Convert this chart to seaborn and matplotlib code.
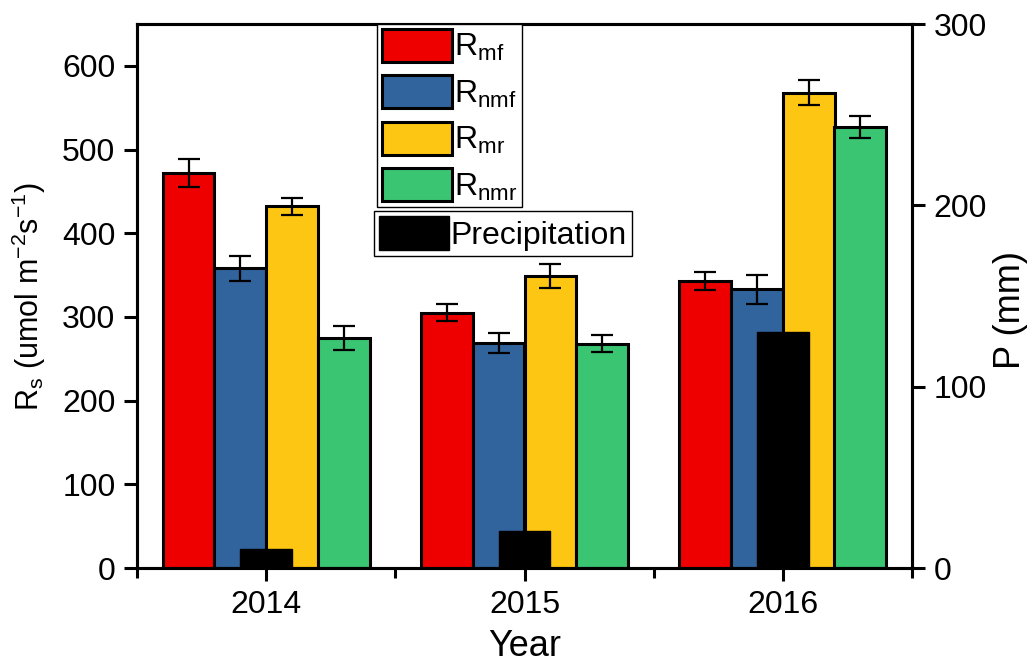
import matplotlib
matplotlib.use('Agg')
import matplotlib.pyplot as plt
import seaborn as sns
import pandas as pd
from matplotlib.patches import Patch
from matplotlib.ticker import FixedLocator, MultipleLocator

# ---------------- data ----------------
years = ['2014', '2015', '2016']
series = ['Rmf', 'Rnmf', 'Rmr', 'Rnmr']
series_labels = [r'$\mathregular{R_{mf}}$', r'$\mathregular{R_{nmf}}$',
                 r'$\mathregular{R_{mr}}$', r'$\mathregular{R_{nmr}}$']
r_mf = [472, 305, 343]
r_mf_err = [17, 10, 11]
r_nmf = [358, 269, 333]
r_nmf_err = [15, 12, 17]
r_mr = [432, 349, 568]
r_mr_err = [10, 14, 15]
r_nmr = [275, 268, 527]
r_nmr_err = [14, 10, 13]
precip = [10.5, 20.5, 130]
colors = ['#EE0000', '#31639C', '#FDC612', '#3AC572']

values = [r_mf, r_nmf, r_mr, r_nmr]
errors = [r_mf_err, r_nmf_err, r_mr_err, r_nmr_err]

df = pd.DataFrame({
    'year': [y for _ in series for y in years],
    'series': [s for s in series for _ in years],
    'value': [v for vals in values for v in vals],
})
dfp = pd.DataFrame({'year': years, 'precip': precip})

# ---------------- style ----------------
sns.set_style('ticks')
plt.rcParams['font.family'] = ['Liberation Sans', 'DejaVu Sans']
plt.rcParams['mathtext.fontset'] = 'custom'
plt.rcParams['mathtext.rm'] = 'Liberation Sans'
plt.rcParams['mathtext.it'] = 'Liberation Sans'
for k in ('text.color', 'axes.labelcolor', 'xtick.color', 'ytick.color', 'axes.edgecolor'):
    plt.rcParams[k] = 'black'

W, H = 1030, 666
fig = plt.figure(figsize=(W / 100, H / 100), dpi=100)
ax = fig.add_axes([137 / W, 1 - 568 / H, (912 - 137) / W, (568 - 24) / H])

sns.barplot(data=df, x='year', y='value', hue='series', hue_order=series,
            palette=colors, saturation=1, edgecolor='black', linewidth=2.2,
            errorbar=None, legend=False, ax=ax)

for cont, errs in zip(ax.containers, errors):
    xs = [b.get_x() + b.get_width() / 2 for b in cont]
    hs = [b.get_height() for b in cont]
    ax.errorbar(xs, hs, yerr=errs, fmt='none', ecolor='black', elinewidth=1.6,
                capsize=8, capthick=1.6, zorder=5)

ax2 = ax.twinx()
sns.barplot(data=dfp, x='year', y='precip', color='black', saturation=1,
            width=0.2, edgecolor='black', linewidth=1, errorbar=None, ax=ax2)

ax.set_xlim(-0.5, 2.5)
ax.set_ylim(0, 650)
ax2.set_ylim(0, 300)
ax.yaxis.set_major_locator(MultipleLocator(100))
ax2.yaxis.set_major_locator(MultipleLocator(100))
ax.xaxis.set_minor_locator(FixedLocator([-0.5, 0.5, 1.5, 2.5]))

for a in (ax, ax2):
    for sp in a.spines.values():
        sp.set_linewidth(2.2)
        sp.set_color('black')

ax.tick_params(axis='both', which='major', labelsize=23, width=2.2, length=9.5,
               direction='out', color='black', labelcolor='black', pad=6)
ax.tick_params(axis='x', which='minor', width=2.2, length=7, direction='out')
ax.tick_params(axis='y', right=False)
ax.tick_params(axis='x', top=False, which='both')
ax2.tick_params(axis='y', labelsize=23, width=2.2, length=9.5, direction='out',
                pad=6, labelcolor='black')

ax.set_xlabel('Year', fontsize=26, labelpad=7, color='black')
ax.set_ylabel(r'$\mathregular{R_s\ (umol\ m^{-2}s^{-1})}$', fontsize=22,
              labelpad=10, color='black')
ax2.set_ylabel('P (mm)', fontsize=26, labelpad=6, color='black')
ax2.yaxis.set_label_coords(1.105, 0.475)

# ---------------- legends ----------------
h1 = [Patch(facecolor=c, edgecolor='black', linewidth=2.2) for c in colors]
leg1 = ax2.legend(h1, series_labels, loc='upper left',
                  bbox_to_anchor=(377 / W, 1 - 24 / H), bbox_transform=fig.transFigure,
                  fontsize=23, handlelength=2.2, handleheight=1.21, labelspacing=0.38,
                  handletextpad=0.05, borderpad=0.15, borderaxespad=0,
                  frameon=True, fancybox=False, edgecolor='black', framealpha=1)
leg1.get_frame().set_linewidth(1.0)
ax2.add_artist(leg1)
h2 = [Patch(facecolor='black', edgecolor='black', linewidth=1)]
leg2 = ax2.legend(h2, ['Precipitation'], loc='upper left',
                  bbox_to_anchor=(374 / W, 1 - 211 / H), bbox_transform=fig.transFigure,
                  fontsize=23, handlelength=2.2, handleheight=1.28,
                  handletextpad=0.05, borderpad=0.15, borderaxespad=0,
                  frameon=True, fancybox=False, edgecolor='black', framealpha=1)
leg2.get_frame().set_linewidth(1.0)

fig.savefig('out.png', dpi=100)
